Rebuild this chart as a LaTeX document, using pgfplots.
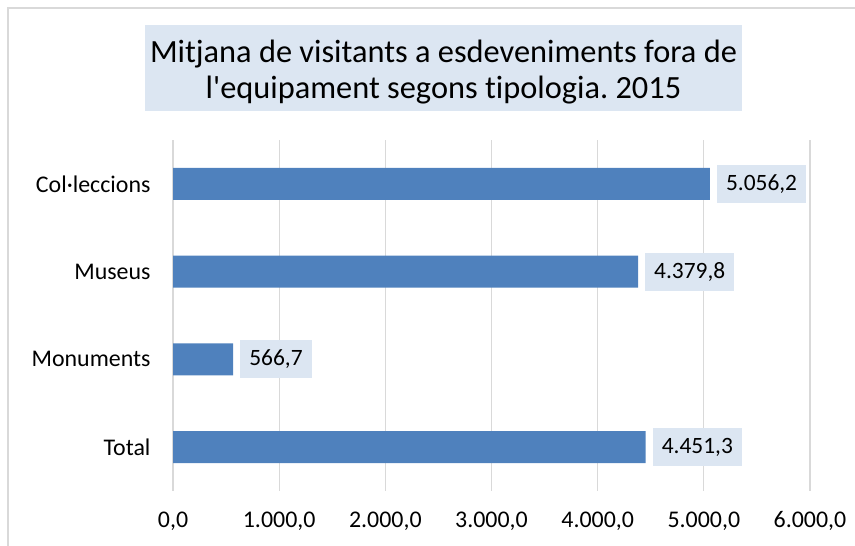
\documentclass[border=0pt]{standalone}
\usepackage{fontspec}
\setmainfont{Carlito}[Ligatures={TeXOff,NoCommon}]
\usepackage{pgfplots}
\pgfplotsset{compat=1.18}
\definecolor{barblue}{HTML}{4F81BD}
\definecolor{lblfill}{HTML}{DCE6F2}
\definecolor{gridgray}{HTML}{D9D9D9}
\frenchspacing
\begin{document}
\begin{tikzpicture}[x=1bp,y=1bp]
\useasboundingbox (0,0) rectangle (855,546);
\draw[gridgray, line width=1.5bp] (8,0) -- (8,538) -- (855,538);
\fill[lblfill] (145,435) rectangle (742,521);
\node[align=center, font=\fontsize{32.5}{36}\selectfont, inner sep=0pt] at (443.5,474)
  {Mitjana de visitants a esdeveniments fora de\\l'equipament segons tipologia. 2015};
\begin{axis}[
  at={(173bp,55bp)}, anchor=south west,
  width=637bp, height=351bp, scale only axis,
  xbar, xmin=0, xmax=6000, ymin=-0.5, ymax=3.5,
  ytick={0,1,2,3}, yticklabels={Total,Monuments,Museus,Col·leccions},
  xtick={0,1000,...,6000}, scaled x ticks=false,
  bar width=32bp,
  axis line style={draw=none},
  major tick length=0pt,
  xmajorgrids, grid style={gridgray, line width=1.2bp},
  /pgf/number format/.cd, use comma, fixed, fixed zerofill, precision=1, 1000 sep={.}, assume math mode=true,
  /pgfplots/.cd,
  tick label style={font=\fontsize{24}{28}\selectfont},
  xticklabel style={yshift=-17bp},
  yticklabel style={xshift=-19bp},
  nodes near coords,
  every node near coord/.append style={anchor=west, fill=lblfill, xshift=7bp,
     font=\fontsize{23.5}{27}\selectfont, inner xsep=9bp, inner ysep=0pt, minimum height=38bp},
]
\addplot[fill=barblue, draw=none] coordinates {(4451.3,0) (566.7,1) (4379.8,2) (5056.2,3)};
\end{axis}
\end{tikzpicture}
\end{document}
